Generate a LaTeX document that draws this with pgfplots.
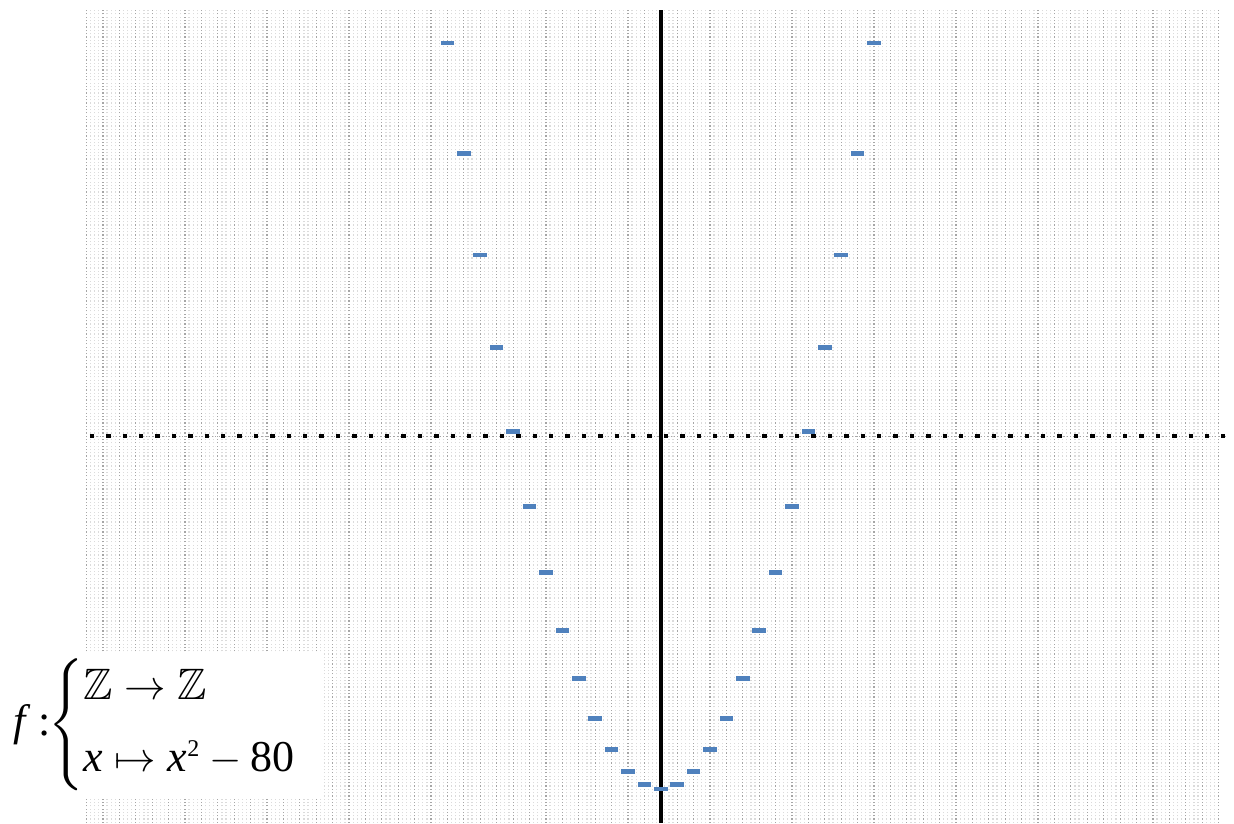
\documentclass[border=0pt]{standalone}
\usepackage{amsmath,amssymb}
\usepackage{fontspec}
\setmainfont{LiberationSerif}[Extension=.ttf, UprightFont=*-Regular, ItalicFont=*-Italic, BoldFont=*-Bold]
\usepackage{pgfplots}
\pgfplotsset{compat=1.18}
\definecolor{markblue}{HTML}{4F81BD}

\pgfplotstableread{
x y
-13 89
-12 64
-11 41
-10 20
-9 1
-8 -16
-7 -31
-6 -44
-5 -55
-4 -64
-3 -71
-2 -76
-1 -79
0 -80
1 -79
2 -76
3 -71
4 -64
5 -55
6 -44
7 -31
8 -16
9 1
10 20
11 41
12 64
13 89
}\parabola

\begin{document}
\begin{tikzpicture}
\useasboundingbox (-40pt,0pt) rectangle (577pt,411.5pt);
\begin{axis}[
  at={(0pt,0pt)}, anchor=south west,
  scale only axis, width=575pt, height=406.5pt,
  xmin=-35.4, xmax=34.7, ymin=-87.7, ymax=96.5,
  xtick={-35,...,34}, ytick=\empty,
  minor x tick num=3,
  xmajorgrids, xminorgrids,
  major grid style={gray!70, line width=0.6pt, dash pattern=on 0.6pt off 1.05pt},
  minor grid style={gray!28, line width=0.6pt, dash pattern=on 0.6pt off 1.05pt},
  xticklabel=\empty, yticklabel=\empty,
  tick style={draw=none},
  axis line style={draw=none},
  clip=false,
]
% x axis: faint dotted line with black dashes once per unit
\draw[gray!70, line width=0.4pt, dash pattern=on 0.6pt off 1.05pt] (axis cs:-34.8,0) -- (axis cs:34.4,0);
\draw[black, line width=2.2pt, dash pattern=on 2.2pt off 6pt] (axis cs:-34.8,0) -- (axis cs:34.4,0);
% y axis
\draw[black, line width=2pt] (axis cs:0,-87.7) -- (axis cs:0,96.5);
\addplot[only marks, mark=-, mark size=3.4pt,
  mark options={draw=markblue, line width=2.4pt}] table {\parabola};
\end{axis}
\fill[white] (-40pt,13pt) rectangle (120.5pt,85.5pt);
\node[anchor=west, inner sep=0pt] at (-33.5pt,49pt) {\fontsize{22}{26}\selectfont
  \textit{f}\,:\hspace{-1pt}$\left\{\begin{array}{@{}l@{}}
  \mathbb{Z}\to\mathbb{Z}\\[10pt]
  \textit{x}\mapsto\textit{x}^{\mbox{\fontsize{12}{12}\selectfont 2}}-\mbox{80}
  \end{array}\right.$};
\end{tikzpicture}
\end{document}
